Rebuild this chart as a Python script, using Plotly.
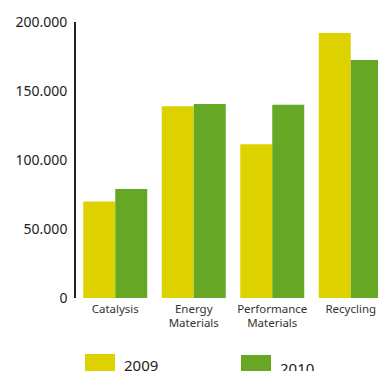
import plotly.graph_objects as go

categories = ["Catalysis", "Energy<br>Materials", "Performance<br>Materials", "Recycling"]
series_names = ["2009", "2010"]
values_2009 = [70000, 139000, 111500, 192000]
values_2010 = [79000, 140500, 140000, 172500]
ytick_vals = [0, 50000, 100000, 150000, 200000]
ytick_text = ["0", "50.000", "100.000", "150.000", "200.000"]
colors = ["#DDD200", "#66A825"]

W, H = 378, 371
ML, MR, MT, MB = 76, 0, 22, 73
ph = H - MT - MB
pw = W - ML - MR

fig = go.Figure()
for name, vals, col in zip(series_names, [values_2009, values_2010], colors):
    fig.add_trace(go.Bar(x=categories, y=vals, name=name, marker=dict(color=col, line=dict(width=0)),
                         showlegend=False))

# custom legend (pixel -> paper)
def px_x(x):
    return (x - ML) / pw

def px_y(y):
    return (H - MB - y) / ph

shapes = []
annotations = []
leg = [(85, 354, "2009", 122, 353), (241, 355, "2010", 278, 356)]
for (x0, y0, txt, tx, ty), col in zip(leg, colors):
    shapes.append(dict(type="rect", xref="paper", yref="paper",
                       x0=px_x(x0), x1=px_x(x0 + 30), y0=px_y(y0), y1=px_y(y0 + 25),
                       fillcolor=col, line=dict(width=0)))
    annotations.append(dict(text=txt, xref="paper", yref="paper", x=px_x(tx), y=px_y(ty),
                            xanchor="left", yanchor="top", showarrow=False,
                            font=dict(size=15, color="#222")))

fig.update_layout(
    width=W, height=H,
    margin=dict(l=ML, r=MR, t=MT, b=MB, pad=0, autoexpand=False),
    paper_bgcolor="white", plot_bgcolor="white",
    barmode="group", bargap=0.185, bargroupgap=0,
    font=dict(family="Noto Sans", color="#222"),
    shapes=shapes, annotations=annotations,
    xaxis=dict(range=[-0.5, 3.347], showline=False, showgrid=False, ticks="", automargin=False,
               tickfont=dict(size=11.5, color="#333"), zeroline=False, fixedrange=True,
               ticklabelstandoff=2),
    yaxis=dict(range=[0, 200000], tickvals=ytick_vals, ticktext=ytick_text, automargin=False,
               showline=True, linecolor="#222", linewidth=1.6, showgrid=False,
               zeroline=False, ticks="", tickfont=dict(size=14, color="#222"),
               ticklabelstandoff=4),
)
fig.write_html("out.html", config={"displayModeBar": False},
               post_script="document.body.style.margin='0';document.body.style.overflow='hidden';")
